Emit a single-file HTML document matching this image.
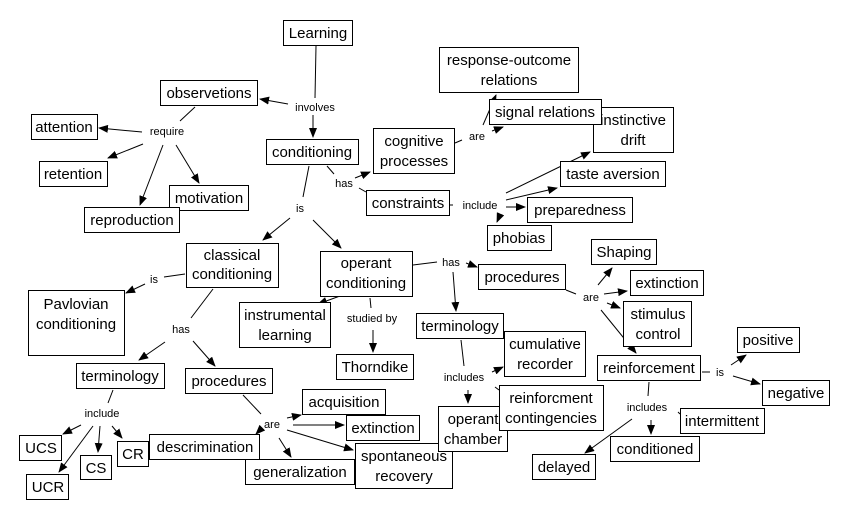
<!DOCTYPE html>
<html><head><meta charset="utf-8"><style>
html,body{margin:0;padding:0;background:#fff;}
svg{display:block;}
.n rect{fill:#fff;stroke:#000;stroke-width:1;}
.n text{font-family:"Liberation Sans",sans-serif;font-size:15px;fill:#000;text-anchor:middle;}
.l{font-family:"Liberation Sans",sans-serif;font-size:11px;fill:#000;text-anchor:middle;}
line{stroke:#000;stroke-width:1;}
</style></head><body>
<svg width="845" height="519" viewBox="0 0 845 519" xmlns="http://www.w3.org/2000/svg">
<defs><marker id="a" markerWidth="10" markerHeight="8" refX="9" refY="4" orient="auto" markerUnits="userSpaceOnUse"><path d="M0,0 L10,4 L0,8 z" fill="#000"/></marker></defs>
<g>
<line x1="316" y1="46" x2="315" y2="98"/>
<line x1="288" y1="104" x2="260" y2="99" marker-end="url(#a)"/>
<line x1="313" y1="115" x2="313" y2="137" marker-end="url(#a)"/>
<line x1="195" y1="107" x2="180" y2="121"/>
<line x1="142" y1="132" x2="99" y2="128" marker-end="url(#a)"/>
<line x1="143" y1="144" x2="108" y2="158" marker-end="url(#a)"/>
<line x1="163" y1="145" x2="140" y2="205" marker-end="url(#a)"/>
<line x1="176" y1="145" x2="199" y2="183" marker-end="url(#a)"/>
<line x1="309" y1="166" x2="303" y2="197"/>
<line x1="290" y1="218" x2="263" y2="240" marker-end="url(#a)"/>
<line x1="313" y1="220" x2="341" y2="248" marker-end="url(#a)"/>
<line x1="327" y1="166" x2="334" y2="174"/>
<line x1="355" y1="178" x2="370" y2="172" marker-end="url(#a)"/>
<line x1="359" y1="188" x2="366" y2="192"/>
<line x1="455" y1="143" x2="462" y2="140"/>
<line x1="492" y1="131" x2="503" y2="127" marker-end="url(#a)"/>
<line x1="483" y1="125" x2="496" y2="95" marker-end="url(#a)"/>
<line x1="449" y1="205" x2="453" y2="205"/>
<line x1="506" y1="193" x2="590" y2="152" marker-end="url(#a)"/>
<line x1="506" y1="200" x2="557" y2="188" marker-end="url(#a)"/>
<line x1="506" y1="207" x2="525" y2="207" marker-end="url(#a)"/>
<line x1="500" y1="215" x2="497" y2="222" marker-end="url(#a)"/>
<line x1="164" y1="277" x2="185" y2="274"/>
<line x1="145" y1="284" x2="126" y2="293" marker-end="url(#a)"/>
<line x1="213" y1="289" x2="191" y2="318"/>
<line x1="165" y1="342" x2="139" y2="360" marker-end="url(#a)"/>
<line x1="193" y1="341" x2="215" y2="366" marker-end="url(#a)"/>
<line x1="113" y1="390" x2="108" y2="403"/>
<line x1="81" y1="425" x2="63" y2="434" marker-end="url(#a)"/>
<line x1="93" y1="426" x2="59" y2="472" marker-end="url(#a)"/>
<line x1="100" y1="426" x2="98" y2="452" marker-end="url(#a)"/>
<line x1="112" y1="426" x2="122" y2="438" marker-end="url(#a)"/>
<line x1="243" y1="395" x2="261" y2="414"/>
<line x1="287" y1="418" x2="301" y2="415" marker-end="url(#a)"/>
<line x1="293" y1="425" x2="344" y2="425" marker-end="url(#a)"/>
<line x1="287" y1="430" x2="353" y2="450" marker-end="url(#a)"/>
<line x1="279" y1="438" x2="291" y2="457" marker-end="url(#a)"/>
<line x1="262" y1="428" x2="256" y2="434" marker-end="url(#a)"/>
<line x1="413" y1="265" x2="437" y2="262"/>
<line x1="466" y1="263" x2="477" y2="267" marker-end="url(#a)"/>
<line x1="453" y1="272" x2="456" y2="311" marker-end="url(#a)"/>
<line x1="340" y1="296" x2="318" y2="304" marker-end="url(#a)"/>
<line x1="370" y1="298" x2="371" y2="308"/>
<line x1="373" y1="330" x2="373" y2="352" marker-end="url(#a)"/>
<line x1="566" y1="290" x2="576" y2="294"/>
<line x1="598" y1="285" x2="612" y2="268" marker-end="url(#a)"/>
<line x1="604" y1="294" x2="627" y2="291" marker-end="url(#a)"/>
<line x1="607" y1="303" x2="620" y2="308" marker-end="url(#a)"/>
<line x1="601" y1="310" x2="636" y2="353" marker-end="url(#a)"/>
<line x1="461" y1="340" x2="464" y2="366"/>
<line x1="492" y1="372" x2="503" y2="367" marker-end="url(#a)"/>
<line x1="468" y1="390" x2="468" y2="403" marker-end="url(#a)"/>
<line x1="495" y1="387" x2="499" y2="390"/>
<line x1="702" y1="372" x2="710" y2="372"/>
<line x1="731" y1="365" x2="746" y2="355" marker-end="url(#a)"/>
<line x1="733" y1="376" x2="760" y2="384" marker-end="url(#a)"/>
<line x1="649" y1="382" x2="648" y2="396"/>
<line x1="632" y1="419" x2="585" y2="453" marker-end="url(#a)"/>
<line x1="651" y1="420" x2="651" y2="434" marker-end="url(#a)"/>
<line x1="678" y1="412" x2="680" y2="414"/>
</g>
<g class="l">
<text x="315" y="111">involves</text>
<text x="167" y="135">require</text>
<text x="344" y="187">has</text>
<text x="300" y="212">is</text>
<text x="477" y="140">are</text>
<text x="480" y="209">include</text>
<text x="154" y="283">is</text>
<text x="181" y="333">has</text>
<text x="102" y="417">include</text>
<text x="272" y="428">are</text>
<text x="372" y="322">studied by</text>
<text x="451" y="266">has</text>
<text x="591" y="301">are</text>
<text x="464" y="381">includes</text>
<text x="647" y="411">includes</text>
<text x="720" y="376">is</text>
</g>
<g class="n">
<rect x="283.5" y="20.5" width="69" height="25"/><text x="318" y="38">Learning</text>
<rect x="160.5" y="80.5" width="97" height="25"/><text x="209" y="98">observetions</text>
<rect x="31.5" y="114.5" width="66" height="25"/><text x="64" y="132">attention</text>
<rect x="39.5" y="161.5" width="68" height="25"/><text x="73" y="179">retention</text>
<rect x="169.5" y="185.5" width="79" height="25"/><text x="209" y="203">motivation</text>
<rect x="84.5" y="207.5" width="95" height="25"/><text x="132" y="225">reproduction</text>
<rect x="266.5" y="139.5" width="92" height="25"/><text x="312" y="157">conditioning</text>
<rect x="373.5" y="128.5" width="81" height="45"/><text x="414" y="146">cognitive</text><text x="414" y="166">processes</text>
<rect x="366.5" y="190.5" width="83" height="25"/><text x="408" y="208">constraints</text>
<rect x="439.5" y="47.5" width="139" height="45"/><text x="509" y="65">response-outcome</text><text x="509" y="85">relations</text>
<rect x="593.5" y="107.5" width="80" height="45"/><text x="633" y="125">instinctive</text><text x="633" y="145">drift</text>
<rect x="489.5" y="99.5" width="112" height="25"/><text x="545" y="117">signal relations</text>
<rect x="560.5" y="161.5" width="105" height="25"/><text x="613" y="179">taste aversion</text>
<rect x="527.5" y="197.5" width="105" height="25"/><text x="580" y="215">preparedness</text>
<rect x="487.5" y="225.5" width="64" height="25"/><text x="519" y="243">phobias</text>
<rect x="591.5" y="239.5" width="65" height="25"/><text x="624" y="257">Shaping</text>
<rect x="186.5" y="243.5" width="92" height="44"/><text x="232" y="260">classical</text><text x="232" y="279">conditioning</text>
<rect x="320.5" y="251.5" width="92" height="45"/><text x="366" y="268">operant</text><text x="366" y="288">conditioning</text>
<rect x="28.5" y="290.5" width="96" height="65"/><text x="76" y="309">Pavlovian</text><text x="76" y="329">conditioning</text>
<rect x="239.5" y="302.5" width="91" height="45"/><text x="285" y="320">instrumental</text><text x="285" y="340">learning</text>
<rect x="336.5" y="354.5" width="77" height="25"/><text x="375" y="372">Thorndike</text>
<rect x="76.5" y="363.5" width="88" height="25"/><text x="120" y="381">terminology</text>
<rect x="185.5" y="368.5" width="87" height="25"/><text x="229" y="386">procedures</text>
<rect x="302.5" y="389.5" width="83" height="25"/><text x="344" y="407">acquisition</text>
<rect x="346.5" y="415.5" width="73" height="25"/><text x="383" y="433">extinction</text>
<rect x="149.5" y="434.5" width="110" height="25"/><text x="205" y="452">descrimination</text>
<rect x="245.5" y="459.5" width="109" height="25"/><text x="300" y="477">generalization</text>
<rect x="355.5" y="443.5" width="97" height="45"/><text x="404" y="461">spontaneous</text><text x="404" y="481">recovery</text>
<rect x="19.5" y="435.5" width="42" height="25"/><text x="41" y="453">UCS</text>
<rect x="80.5" y="455.5" width="31" height="24"/><text x="96" y="473">CS</text>
<rect x="117.5" y="441.5" width="31" height="25"/><text x="133" y="459">CR</text>
<rect x="26.5" y="474.5" width="42" height="25"/><text x="48" y="492">UCR</text>
<rect x="478.5" y="264.5" width="87" height="25"/><text x="522" y="282">procedures</text>
<rect x="630.5" y="270.5" width="73" height="25"/><text x="667" y="288">extinction</text>
<rect x="623.5" y="301.5" width="68" height="45"/><text x="658" y="319">stimulus</text><text x="658" y="339">control</text>
<rect x="416.5" y="313.5" width="87" height="25"/><text x="460" y="331">terminology</text>
<rect x="504.5" y="331.5" width="81" height="45"/><text x="545" y="349">cumulative</text><text x="545" y="369">recorder</text>
<rect x="597.5" y="355.5" width="103" height="25"/><text x="649" y="373">reinforcement</text>
<rect x="737.5" y="327.5" width="62" height="25"/><text x="768" y="345">positive</text>
<rect x="762.5" y="380.5" width="67" height="25"/><text x="796" y="398">negative</text>
<rect x="438.5" y="406.5" width="69" height="45"/><text x="473" y="424">operant</text><text x="473" y="444">chamber</text>
<rect x="499.5" y="385.5" width="104" height="45"/><text x="551" y="403">reinforcment</text><text x="551" y="423">contingencies</text>
<rect x="680.5" y="408.5" width="84" height="25"/><text x="722" y="426">intermittent</text>
<rect x="610.5" y="436.5" width="89" height="25"/><text x="655" y="454">conditioned</text>
<rect x="532.5" y="454.5" width="63" height="25"/><text x="564" y="472">delayed</text>
</g>
</svg>
</body></html>
